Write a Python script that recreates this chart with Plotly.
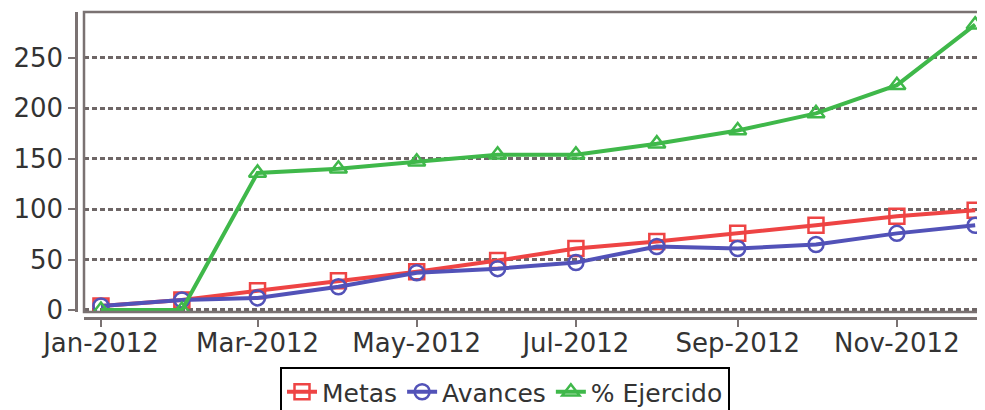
import plotly.graph_objects as go

months = ["2012-01-01", "2012-02-01", "2012-03-01", "2012-04-01", "2012-05-01", "2012-06-01",
          "2012-07-01", "2012-08-01", "2012-09-01", "2012-10-01", "2012-11-01", "2012-12-01"]
metas = [4, 10, 19, 29, 38, 49, 61, 68, 76, 84, 93, 99]
avances = [4, 10, 12, 23, 37, 41, 47, 63, 61, 65, 76, 84]
ejercido = [0, 0, 136, 140, 147, 154, 154, 165, 178, 195, 223, 283]

names = ["Metas", "Avances", "% Ejercido"]
colors = ["#ee4444", "#5252b8", "#3fb84a"]
symbols = ["square-open", "circle-open", "triangle-up-open"]

# page body has an 8px margin, so the figure starts at (8, 8)
W, H = 977, 402
ml, mr, mt, mb = 68, 2, 4, 92
pw = W - ml - mr
ph = H - mt - mb

fig = go.Figure()
for name, vals, c, s in zip(names, [metas, avances, ejercido], colors, symbols):
    fig.add_trace(go.Scatter(
        x=months, y=vals, name=name, mode="lines+markers",
        line=dict(color=c, width=4),
        marker=dict(symbol=s, size=15, color=c, line=dict(color=c, width=2.5)),
    ))

font = dict(family="DejaVu Sans", size=26, color="#333333")

fig.update_layout(
    width=W, height=H,
    margin=dict(l=ml, r=mr, t=mt, b=mb, autoexpand=False),
    paper_bgcolor="white", plot_bgcolor="white",
    font=font,
    xaxis=dict(
        domain=[8 / pw, 1], anchor="free", position=0, automargin=False,
        type="date", range=["2011-12-25 12:00", "2012-12-04"],
        tickformat="%b-%Y", dtick="M2", tick0="2012-01-01",
        showgrid=False, zeroline=False,
        showline=True, linecolor="#7a7272", linewidth=2.5,
        ticks="outside", ticklen=7, tickcolor="#7a7272", tickwidth=2,
        ticklabelstandoff=-6,
        tickfont=font,
    ),
    yaxis=dict(
        domain=[6 / ph, 1], anchor="free", position=0, automargin=False,
        range=[-2, 295.6], tickvals=[0, 50, 100, 150, 200, 250],
        showgrid=True, gridcolor="#6e6666", griddash="5px,3px", gridwidth=2.5,
        zeroline=False,
        showline=True, linecolor="#7a7272", linewidth=2.5,
        ticks="outside", ticklen=7, tickcolor="#7a7272", tickwidth=2,
        tickfont=font,
    ),
    legend=dict(
        orientation="h", x=(505 - 8 - ml) / pw, xanchor="center",
        y=-(367 - 8 - (H - mb)) / ph, yanchor="top",
        bordercolor="black", borderwidth=2, bgcolor="white",
        font=dict(family="DejaVu Sans", size=25, color="#333333"),
        itemwidth=30, tracegroupgap=0,
    ),
    showlegend=True,
)

fig.add_shape(type="rect", xref="x domain", yref="y domain", x0=0, x1=1, y0=0, y1=1,
              line=dict(color="#7a7272", width=2.5), layer="above")

fig.write_html("out.html")
